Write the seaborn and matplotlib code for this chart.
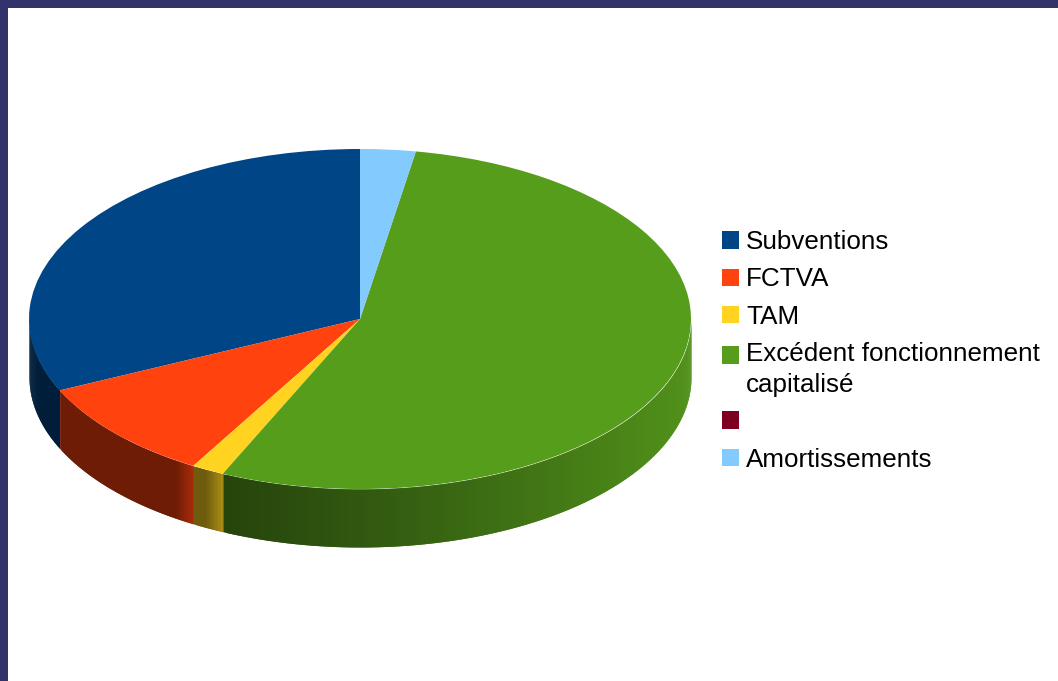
import numpy as np
import matplotlib
matplotlib.use("Agg")
import matplotlib.pyplot as plt
from matplotlib.patches import Rectangle
from matplotlib.legend_handler import HandlerPatch
import seaborn as sns

categories = ["Subventions", "FCTVA", "TAM", "Excédent fonctionnement\ncapitalisé", "", "Amortissements"]
values = [31.9, 9.7, 1.6, 54.1, 0.0, 2.7]
colors = ["#004586", "#ff420e", "#ffd320", "#579d1c", "#7e0021", "#83caff"]

sns.set_theme(style="white")
plt.rcParams["font.family"] = ["Liberation Sans", "DejaVu Sans"]
palette = sns.color_palette(colors)

W, H = 1058, 681
fig = plt.figure(figsize=(W / 100, H / 100), dpi=100, facecolor="white")

# page frame
frame = "#33336b"
fig.add_artist(Rectangle((0, 1 - 8 / H), 1, 8 / H, transform=fig.transFigure, color=frame, lw=0))
fig.add_artist(Rectangle((0, 0), 8 / W, 1, transform=fig.transFigure, color=frame, lw=0))

# plot area: ellipse spans x 29..691, top face y 149..489, wall 58 px deep
depth = 58 / 170
left, right, top, bottom = 29, 691, 149, 547
ax = fig.add_axes([left / W, 1 - bottom / H, (right - left) / W, (bottom - top) / H])

wedges, _ = ax.pie(values, colors=palette, startangle=90, counterclock=True,
                   radius=1, wedgeprops=dict(lw=0, clip_on=False, zorder=3))
ax.set_aspect("auto")
ax.set_xlim(-1, 1)
ax.set_ylim(-1 - depth, 1)
ax.axis("off")

# side wall, built from the same values; each strip overlaps the next to avoid seams
px_per_x = (right - left) / 2
edges = 90 + np.cumsum([0] + values) * 3.6
for val, col, a0, a1 in zip(values, palette, edges[:-1], edges[1:]):
    if val == 0:
        continue
    lo, hi = max(a0, 180), min(a1, 360)
    if hi <= lo:
        continue
    n = max(int((hi - lo) * 2), 2)
    ang = np.radians(np.linspace(lo, hi, n + 1))
    xs = np.cos(ang)
    x_end = xs.max()
    for i in range(n):
        xm = (xs[i] + xs[i + 1]) / 2
        f = 0.43 + 0.50 * np.clip((xm + 0.45) / 1.45, 0, 1) ** 1.15
        ramp = np.clip(1 - (x_end - xm) * px_per_x / 18, 0, 1)
        if x_end < -0.4 and a0 > 180:
            f = f + 0.24 * ramp
        c = tuple(v * f for v in col)
        ax.fill_between(xs[i:i + 3], np.sin(ang[i:i + 3]) - depth, np.sin(ang[i:i + 3]),
                        color=c, lw=0, zorder=2, clip_on=False)


class LegendSquare(HandlerPatch):
    def create_artists(self, legend, orig_handle, xdescent, ydescent, width, height, fontsize, trans):
        shift = 0
        if "\n" in orig_handle.get_label():
            shift = 10.8
        p = Rectangle((-xdescent, -ydescent + shift), width, height,
                      facecolor=orig_handle.get_facecolor(), lw=0, transform=trans)
        return [p]


handles = [Rectangle((0, 0), 1, 1, facecolor=c, label=l, lw=0) for c, l in zip(palette, categories)]
fs = 18.75
leg = fig.legend(handles=handles, labels=categories, loc="upper left",
                 bbox_to_anchor=(722 / W, 1 - 230 / H), frameon=False, fontsize=fs,
                 borderpad=0, borderaxespad=0, handlelength=12.24 / fs, handleheight=12.24 / fs,
                 handletextpad=5.0 / fs, labelspacing=0.517,
                 handler_map={Rectangle: LegendSquare()})
for t in leg.get_texts():
    t.set_color("black")
    t.set_linespacing(1.335)

fig.savefig("out.png", dpi=100)
